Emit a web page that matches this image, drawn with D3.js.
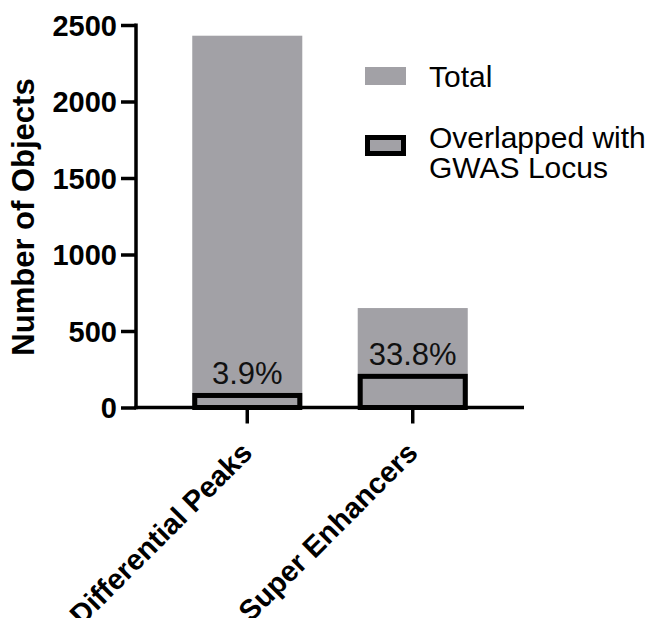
<!DOCTYPE html>
<html>
<head>
<meta charset="utf-8">
<script src="https://cdn.jsdelivr.net/npm/d3@7"></script>
<style>
  html, body { margin: 0; padding: 0; background: #fff; }
  svg { display: block; font-family: "Liberation Sans", Arial, sans-serif; }
</style>
</head>
<body>
<svg id="chart" width="662" height="618"></svg>
<script>
// Object counts per category
const categories = ["Differential Peaks", "Super Enhancers"];
const totalCounts = [2430, 650];
const overlapCounts = [95, 220];
const yTicks = [0, 500, 1000, 1500, 2000, 2500];
const legendLabels = ["Total", ["Overlapped with", "GWAS Locus"]];

const barFill = "#a2a1a6";
const svg = d3.select("#chart");

const x = d3.scaleBand()
  .domain(categories)
  .range([136, 524])
  .paddingInner(0.335)
  .paddingOuter(0.34);

const y = d3.scaleLinear().domain([0, 2500]).range([407.5, 25]);

// Total bars
svg.append("g").selectAll("rect")
  .data(categories)
  .join("rect")
  .attr("x", d => x(d))
  .attr("width", x.bandwidth())
  .attr("y", (d, i) => y(totalCounts[i]))
  .attr("height", (d, i) => y(0) - y(totalCounts[i]))
  .attr("fill", barFill);

// Overlap bars (outlined, stroke kept inside the bar bounds)
const sw = 5;
svg.append("g").selectAll("rect")
  .data(categories)
  .join("rect")
  .attr("x", d => x(d) + sw / 2)
  .attr("width", x.bandwidth() - sw)
  .attr("y", (d, i) => y(overlapCounts[i]) + sw / 2)
  .attr("height", (d, i) => y(0) - y(overlapCounts[i]) - sw / 2)
  .attr("fill", barFill)
  .attr("stroke", "#000")
  .attr("stroke-width", sw);

// Percentage labels
const pct = d3.format(".1f");
svg.append("g").selectAll("text")
  .data(categories)
  .join("text")
  .attr("x", d => x(d) + x.bandwidth() / 2)
  .attr("y", (d, i) => y(overlapCounts[i]) - 9)
  .attr("text-anchor", "middle")
  .attr("font-size", 31)
  .attr("fill", "#111")
  .text((d, i) => pct(overlapCounts[i] / totalCounts[i] * 100) + "%");

// Y axis
const yAxis = svg.append("g")
  .attr("transform", "translate(136,0)")
  .call(d3.axisLeft(y).tickValues(yTicks).tickSize(15).tickPadding(4).tickFormat(d3.format("d")));
yAxis.select(".domain").attr("stroke", "#000").attr("stroke-width", 3.5).attr("d", `M0,${y(2500) - 1.5}V${y(0) + 1.75}`);
yAxis.selectAll(".tick line").attr("stroke", "#000").attr("stroke-width", 3.5);
yAxis.selectAll(".tick text")
  .attr("font-size", 29)
  .attr("font-weight", "bold")
  .attr("fill", "#000")
  .attr("dy", "0.36em")
  .attr("font-family", "Liberation Sans, Arial, sans-serif");

// X axis
const xAxis = svg.append("g")
  .attr("transform", `translate(0,${y(0)})`)
  .call(d3.axisBottom(x).tickSize(16).tickFormat(""));
xAxis.select(".domain").attr("stroke", "#000").attr("stroke-width", 3.5).attr("d", "M134.25,0H524");
xAxis.selectAll(".tick line").attr("stroke", "#000").attr("stroke-width", 3.5).attr("y1", 2);

// Rotated category labels
svg.append("g").selectAll("text")
  .data(categories)
  .join("text")
  .attr("transform", d => `translate(${x(d) + x.bandwidth() / 2 - 8},${440}) rotate(-45)`)
  .attr("text-anchor", "end")
  .attr("dy", "0.71em")
  .attr("font-size", 29)
  .attr("font-weight", "bold")
  .attr("fill", "#000")
  .text(d => d);

// Y axis title
svg.append("text")
  .attr("transform", "translate(34,217) rotate(-90)")
  .attr("text-anchor", "middle")
  .attr("font-size", 31)
  .attr("font-weight", "bold")
  .attr("fill", "#000")
  .text("Number of Objects");

// Legend
const legend = svg.append("g");
legend.append("rect")
  .attr("x", 365).attr("y", 67).attr("width", 41).attr("height", 18)
  .attr("fill", barFill);
legend.append("text")
  .attr("x", 429).attr("y", 87)
  .attr("font-size", 30).attr("fill", "#000")
  .text(legendLabels[0]);
legend.append("rect")
  .attr("x", 367.5).attr("y", 137.5).attr("width", 36).attr("height", 16)
  .attr("fill", barFill).attr("stroke", "#000").attr("stroke-width", 5);
legend.append("text")
  .attr("x", 429).attr("y", 148)
  .attr("font-size", 30).attr("fill", "#000")
  .selectAll("tspan")
  .data(legendLabels[1])
  .join("tspan")
  .attr("x", 429)
  .attr("dy", (d, i) => i === 0 ? 0 : 30)
  .text(d => d);
</script>
</body>
</html>
